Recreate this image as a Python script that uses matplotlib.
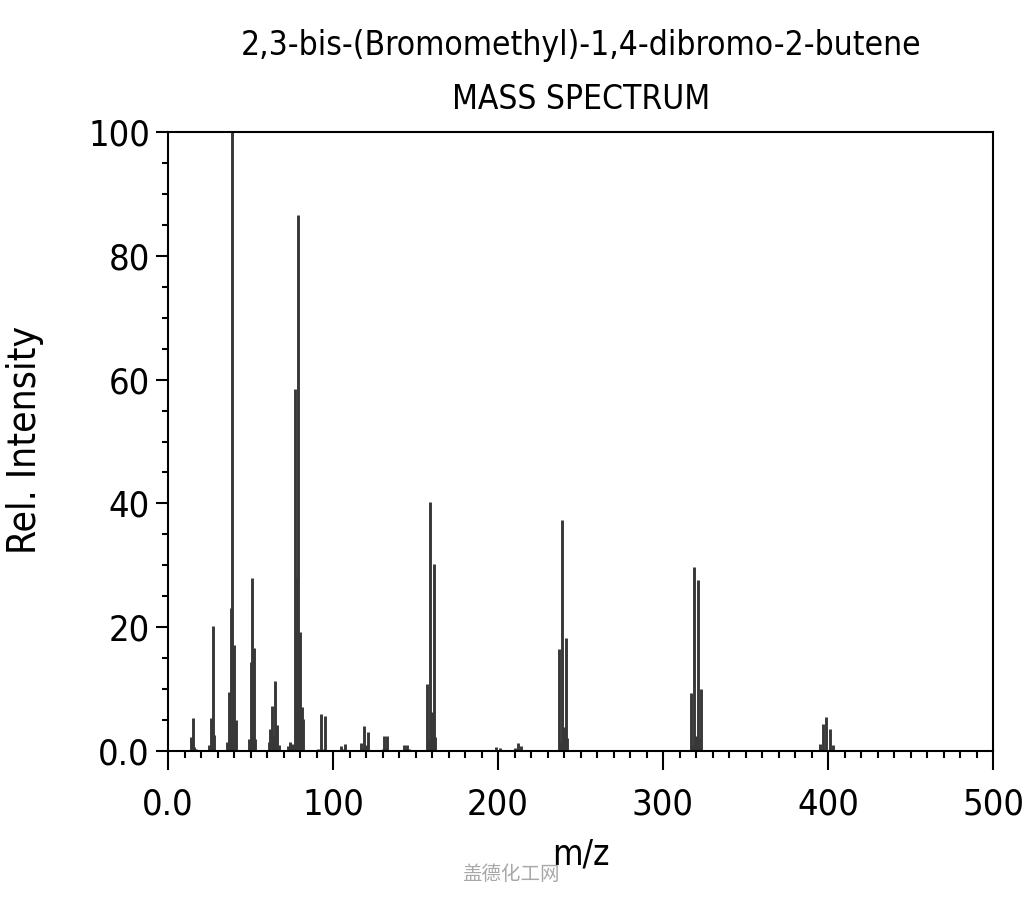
import numpy as np
import matplotlib
matplotlib.use("Agg")
import matplotlib.pyplot as plt
from matplotlib.ticker import MultipleLocator, FuncFormatter

# peak list (m/z, relative intensity)
mz = [14, 15, 16, 17, 25, 26, 27, 28,
      36, 37, 38, 39, 40, 41, 49, 50, 51, 52, 53,
      61, 62, 63, 64, 65, 66, 67,
      73, 74, 75, 76, 77, 78, 79, 80, 81, 82,
      91, 93, 94, 95, 105, 106, 107,
      117, 118, 119, 120, 121, 130, 131, 132, 133,
      143, 144, 145, 146,
      157, 158, 159, 160, 161, 162,
      199, 201, 210, 212, 214,
      237, 238, 239, 240, 241, 242,
      317, 318, 319, 320, 321, 322, 323,
      395, 397, 399, 401, 403]
intensity = [2.3, 5.3, 0.6, 0.4, 1.0, 5.3, 20.2, 2.6,
             1.5, 9.5, 23.1, 100.0, 17.2, 5.0, 2.0, 14.4, 27.9, 16.6, 2.0,
             1.5, 3.5, 7.3, 2.5, 11.3, 4.2, 1.0,
             0.8, 1.5, 1.2, 0.8, 58.5, 28.0, 86.6, 19.3, 7.1, 5.2,
             0.3, 6.0, 0.4, 5.6, 0.8, 0.3, 1.1,
             1.3, 0.5, 4.0, 1.0, 3.0, 0.4, 2.4, 0.5, 2.4,
             1.0, 0.5, 1.0, 0.4,
             10.9, 2.0, 40.3, 6.3, 30.2, 2.3,
             0.7, 0.5, 0.5, 1.3, 0.8,
             16.4, 1.5, 37.3, 3.9, 18.2, 2.1,
             9.4, 1.0, 29.7, 2.5, 27.7, 2.0, 10.0,
             1.2, 4.3, 5.5, 3.5, 0.9]

title_lines = ["2,3-bis-(Bromomethyl)-1,4-dibromo-2-butene", "MASS SPECTRUM"]
watermark = "盖德化工网"

font = {"family": "DejaVu Sans", "stretch": "condensed"}

fig = plt.figure(figsize=(10.24, 9), dpi=100)
ax = fig.add_axes([168 / 1024, 1 - 751 / 900, 825 / 1024, 619 / 900])

ax.vlines(mz, 0, intensity, colors="#383838", linewidth=2.1)

ax.set_xlim(0, 500)
ax.set_ylim(0, 100)

ax.xaxis.set_major_locator(MultipleLocator(100))
ax.xaxis.set_minor_locator(MultipleLocator(10))
ax.yaxis.set_major_locator(MultipleLocator(20))
ax.yaxis.set_minor_locator(MultipleLocator(5))

fmt = FuncFormatter(lambda v, p: "0.0" if v == 0 else "%d" % v)
ax.xaxis.set_major_formatter(fmt)
ax.yaxis.set_major_formatter(fmt)

for s in ax.spines.values():
    s.set_linewidth(1.5)

ax.tick_params(axis="x", which="major", direction="out", length=14, width=1.5, pad=12)
ax.tick_params(axis="x", which="minor", direction="out", length=5, width=1.5)
ax.tick_params(axis="y", which="major", direction="out", length=9, width=1.5, pad=4)
ax.tick_params(axis="y", which="minor", direction="out", length=4.5, width=1.5)

for lab in ax.get_xticklabels() + ax.get_yticklabels():
    lab.set_fontsize(26)
    lab.set_fontfamily(font["family"])
    lab.set_fontstretch(font["stretch"])

ax.set_xlabel("m/z", fontsize=25, **font)
ax.set_ylabel("Rel. Intensity", fontsize=28, **font)
ax.xaxis.set_label_coords(0.5, -0.14)
ax.yaxis.set_label_coords(-0.15, 0.502)

fig.text(0.567, 0.95, title_lines[0], ha="center", va="center", fontsize=24, **font)
fig.text(0.567, 0.889, title_lines[1], ha="center", va="center", fontsize=24, **font)

fig.text(0.499, 0.028, watermark, ha="center", va="center", fontsize=14,
         color="#a8a8a8", family=["Noto Sans CJK SC", "DejaVu Sans"])

fig.savefig("out.png", dpi=100)
